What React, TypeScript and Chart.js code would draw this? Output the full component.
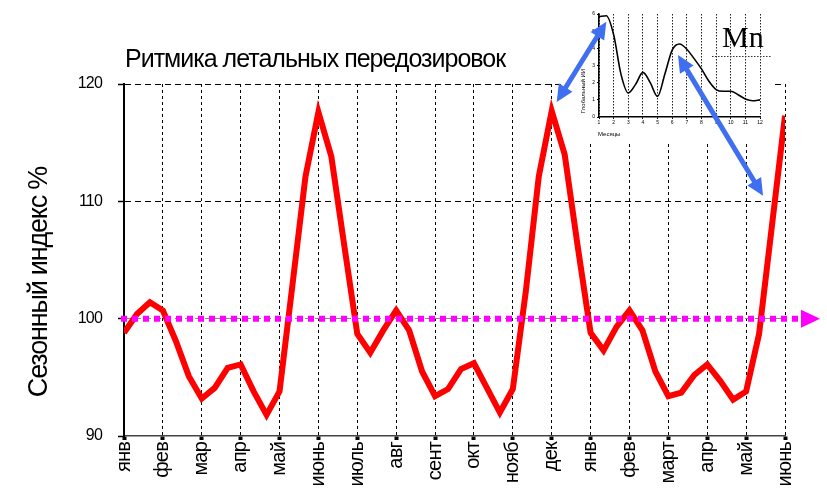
import { useEffect, useRef } from 'react';
import { Chart, registerables } from 'chart.js';

Chart.register(...registerables);

// ---------- main chart data ----------
const TITLE = 'Ритмика летальных передозировок';
const Y_TITLE = 'Сезонный индекс %';
const MONTH_LABELS = ['янв', 'фев', 'мар', 'апр', 'май', 'июнь', 'июль', 'авг', 'сент', 'окт', 'нояб', 'дек', 'янв', 'фев', 'март', 'апр', 'май', 'июнь'];
const POINTS_PER_MONTH = 3;
const SEASONAL_INDEX = [
  98.8, 100.4, 101.4, 100.7, 98.1, 95.1, 93.2, 94.1, 95.8, 96.1, 93.8, 91.8,
  93.8, 102.9, 112.1, 117.6, 113.8, 106.2, 98.7, 97.1, 99.0, 100.7, 99.0, 95.5,
  93.4, 94.0, 95.7, 96.2, 94.1, 92.0, 94.0, 102.3, 112.1, 117.7, 114.0, 106.2,
  98.8, 97.3, 99.3, 100.7, 99.0, 95.5, 93.4, 93.7, 95.2, 96.1, 94.7, 93.1,
  93.8, 98.7, 108.0, 117.3,
];
const Y_TICKS = [90, 100, 110, 120];
const BASELINE = 100;

// ---------- inset chart data ----------
const INSET_MONTHS = [1, 1.5, 2, 2.5, 3, 3.5, 4, 4.5, 5, 5.5, 6, 6.5, 7, 7.5, 8, 8.5, 9, 9.5, 10, 10.5, 11, 11.5, 12];
const INSET_VALUES = [5.85, 5.9, 4.8, 2.5, 1.4, 1.9, 2.6, 2.0, 1.2, 2.5, 3.9, 4.25, 3.95, 3.4, 2.8, 2.1, 1.6, 1.5, 1.5, 1.3, 1.05, 0.95, 1.0];
const INSET_Y_TITLE = 'Глобальный ИИ';
const INSET_X_TITLE = 'Месяцы';
const INSET_LABEL = 'Mn';

const W = 827;
const H = 490;
const INSET_LEFT = 568;
const INSET_TOP = 0;
const INSET_W = 205;
const INSET_H = 142;

const SANS = '"Liberation Sans", Arial, sans-serif';
const SERIF = '"Liberation Serif", "Times New Roman", serif';

const mainDecor = {
  id: 'mainDecor',
  beforeDraw(chart: any) {
    chart.ctx.letterSpacing = '-0.8px';
  },
  afterDatasetsDraw(chart: any) {
    const { ctx, chartArea, scales } = chart;
    const y = scales.y.getPixelForValue(BASELINE);
    ctx.save();
    ctx.letterSpacing = '0px';
    ctx.strokeStyle = '#ff00ff';
    ctx.lineWidth = 6;
    ctx.setLineDash([6, 5]);
    ctx.beginPath();
    ctx.moveTo(chartArea.left - 3, y);
    ctx.lineTo(chartArea.right + 16, y);
    ctx.stroke();
    ctx.setLineDash([]);
    ctx.fillStyle = '#ff00ff';
    ctx.beginPath();
    ctx.moveTo(chartArea.right + 16, y - 9);
    ctx.lineTo(chartArea.right + 35, y);
    ctx.lineTo(chartArea.right + 16, y + 9);
    ctx.closePath();
    ctx.fill();
    ctx.restore();
  },
  afterDraw(chart: any) {
    const { ctx, chartArea } = chart;
    ctx.save();
    ctx.fillStyle = '#000';
    ctx.textBaseline = 'alphabetic';
    ctx.textAlign = 'left';
    ctx.font = `25px ${SANS}`;
    ctx.letterSpacing = '-1px';
    ctx.fillText(TITLE, chartArea.left + 1, chartArea.top - 17);
    ctx.translate(47, 282);
    ctx.rotate(-Math.PI / 2);
    ctx.textAlign = 'center';
    ctx.font = `27px ${SANS}`;
    ctx.letterSpacing = '-1.2px';
    ctx.fillText(Y_TITLE, 0, 0);
    ctx.restore();
  },
};

const insetDecor = {
  id: 'insetDecor',
  beforeDraw(chart: any) {
    const { ctx, width, height } = chart;
    ctx.save();
    ctx.fillStyle = '#fff';
    ctx.fillRect(0, 0, width, height);
    ctx.restore();
  },
  afterDraw(chart: any) {
    const { ctx, chartArea } = chart;
    ctx.save();
    ctx.fillStyle = '#000';
    ctx.font = `6px ${SANS}`;
    ctx.textBaseline = 'alphabetic';
    ctx.textAlign = 'left';
    ctx.fillText(INSET_X_TITLE, chartArea.left - 1, chartArea.bottom + 19);
    ctx.save();
    ctx.translate(chartArea.left - 14, chartArea.bottom - 26);
    ctx.rotate(-Math.PI / 2);
    ctx.textAlign = 'center';
    ctx.fillText(INSET_Y_TITLE, 0, 0);
    ctx.restore();
    ctx.font = `30px ${SERIF}`;
    ctx.fillText(INSET_LABEL, chartArea.right - 38, chartArea.top + 33);
    ctx.strokeStyle = '#333';
    ctx.lineWidth = 1;
    ctx.setLineDash([1.5, 1.5]);
    ctx.beginPath();
    ctx.moveTo(chartArea.right - 48, chartArea.top + 42.5);
    ctx.lineTo(chartArea.right + 12, chartArea.top + 42.5);
    ctx.stroke();
    ctx.restore();
  },
};

function drawArrow(ctx: CanvasRenderingContext2D, a: { x: number; y: number }, b: { x: number; y: number }) {
  const dx = b.x - a.x;
  const dy = b.y - a.y;
  const len = Math.hypot(dx, dy);
  const ux = dx / len;
  const uy = dy / len;
  const head = 17;
  const half = 8;
  ctx.beginPath();
  ctx.moveTo(a.x + ux * (head - 2), a.y + uy * (head - 2));
  ctx.lineTo(b.x - ux * (head - 2), b.y - uy * (head - 2));
  ctx.stroke();
  const tri = (tip: { x: number; y: number }, sx: number, sy: number) => {
    const bx = tip.x - sx * head;
    const by = tip.y - sy * head;
    ctx.beginPath();
    ctx.moveTo(tip.x, tip.y);
    ctx.lineTo(bx - sy * half, by + sx * half);
    ctx.lineTo(bx + sy * half, by - sx * half);
    ctx.closePath();
    ctx.fill();
  };
  tri(b, ux, uy);
  tri(a, -ux, -uy);
}

export default function App() {
  const mainRef = useRef<HTMLCanvasElement>(null);
  const insetRef = useRef<HTMLCanvasElement>(null);
  const overlayRef = useRef<HTMLCanvasElement>(null);

  useEffect(() => {
    if (!mainRef.current || !insetRef.current || !overlayRef.current) return;

    const main = new Chart(mainRef.current, {
      type: 'line',
      data: {
        datasets: [
          {
            data: SEASONAL_INDEX.map((v, i) => ({ x: i / POINTS_PER_MONTH, y: v })),
            borderColor: '#ff0000',
            borderWidth: 6,
            pointRadius: 0,
            tension: 0,
            borderJoinStyle: 'miter',
            fill: false,
          },
        ],
      },
      options: {
        responsive: false,
        animation: false,
        layout: { padding: { left: 0, top: 84, right: 42, bottom: 0 } },
        plugins: { legend: { display: false }, tooltip: { enabled: false }, title: { display: false } },
        scales: {
          x: {
            type: 'linear',
            min: 0,
            max: MONTH_LABELS.length - 1,
            afterBuildTicks: (s: any) => {
              s.ticks = MONTH_LABELS.map((_, i) => ({ value: i }));
            },
            afterFit: (s: any) => {
              s.height = 54;
            },
            ticks: {
              autoSkip: false,
              maxRotation: 90,
              minRotation: 90,
              padding: 2,
              color: '#000',
              font: { family: SANS, size: 20 },
              callback: (v: any) => MONTH_LABELS[Math.round(Number(v))] ?? '',
            },
            grid: { color: '#000', lineWidth: 1, drawTicks: true, tickLength: 4, tickWidth: 4, tickColor: '#000' },
            border: { display: true, color: '#444', width: 1.5, dash: [3, 3] },
          },
          y: {
            min: 90,
            max: 120,
            afterBuildTicks: (s: any) => {
              s.ticks = Y_TICKS.map((v) => ({ value: v }));
            },
            afterFit: (s: any) => {
              s.width = 124;
            },
            ticks: { padding: 16, color: '#000', font: { family: SANS, size: 16 } },
            grid: {
              color: (c: any) => (c.tick && c.tick.value === 90 ? 'rgba(0,0,0,0)' : c.tick && c.tick.value === BASELINE ? '#888' : '#000'),
              lineWidth: 1,
              tickLength: 6,
              tickWidth: 1.5,
              tickColor: '#000',
            },
            border: { color: '#000', width: 2, dash: [6, 4] },
          },
        },
      },
      plugins: [mainDecor],
    } as any);

    const inset = new Chart(insetRef.current, {
      type: 'line',
      data: {
        datasets: [
          {
            data: INSET_MONTHS.map((m, i) => ({ x: m, y: INSET_VALUES[i] })),
            borderColor: '#000',
            borderWidth: 1.6,
            pointRadius: 0,
            tension: 0.4,
            cubicInterpolationMode: 'monotone',
            fill: false,
          },
        ],
      },
      options: {
        responsive: false,
        animation: false,
        layout: { padding: { left: 0, top: 14, right: 13, bottom: 0 } },
        plugins: { legend: { display: false }, tooltip: { enabled: false } },
        scales: {
          x: {
            type: 'linear',
            min: 1,
            max: 12,
            afterFit: (s: any) => {
              s.height = 25;
            },
            ticks: { stepSize: 1, autoSkip: false, maxRotation: 0, padding: 1, color: '#000', font: { family: SANS, size: 5 } },
            grid: { color: '#222', lineWidth: 1, tickLength: 2, tickColor: '#000' },
            border: { color: '#000', width: 1.5, dash: [1.5, 1.5] },
          },
          y: {
            min: 0,
            max: 6,
            afterFit: (s: any) => {
              s.width = 31;
            },
            ticks: { stepSize: 1, padding: 2, color: '#000', font: { family: SANS, size: 5 } },
            grid: { drawOnChartArea: false, tickLength: 2, tickColor: '#000' },
            border: { color: '#000', width: 1.5 },
          },
        },
      },
      plugins: [insetDecor],
    } as any);

    const ov = overlayRef.current.getContext('2d')!;
    ov.clearRect(0, 0, W, H);
    const mainPt = (idx: number, val: number) => ({
      x: main.scales.x.getPixelForValue(idx / POINTS_PER_MONTH),
      y: main.scales.y.getPixelForValue(val),
    });
    const insetPt = (m: number, v: number) => ({
      x: INSET_LEFT + inset.scales.x.getPixelForValue(m),
      y: INSET_TOP + inset.scales.y.getPixelForValue(v),
    });
    const shift = (p: { x: number; y: number }, dx: number, dy: number) => ({ x: p.x + dx, y: p.y + dy });
    ov.save();
    ov.strokeStyle = '#3f6ff0';
    ov.fillStyle = '#3f6ff0';
    ov.lineWidth = 5;
    drawArrow(ov, shift(mainPt(33, 117.7), 5, -9), shift(insetPt(1.5, 5.9), 0, 6));
    drawArrow(ov, shift(insetPt(6.5, 4.25), -1.5, 11), shift(mainPt(50, 108.0), -9, -29));
    ov.restore();

    return () => {
      main.destroy();
      inset.destroy();
    };
  }, []);

  return (
    <div style={{ position: 'fixed', left: 0, top: 0, width: W, height: H, background: '#fff' }}>
      <canvas ref={mainRef} width={W} height={H} style={{ position: 'absolute', left: 0, top: 0 }} />
      <div style={{ position: 'absolute', left: INSET_LEFT, top: INSET_TOP, width: INSET_W, height: INSET_H, background: '#fff' }}>
        <canvas ref={insetRef} width={INSET_W} height={INSET_H} />
      </div>
      <canvas ref={overlayRef} width={W} height={H} style={{ position: 'absolute', left: 0, top: 0, pointerEvents: 'none' }} />
    </div>
  );
}
